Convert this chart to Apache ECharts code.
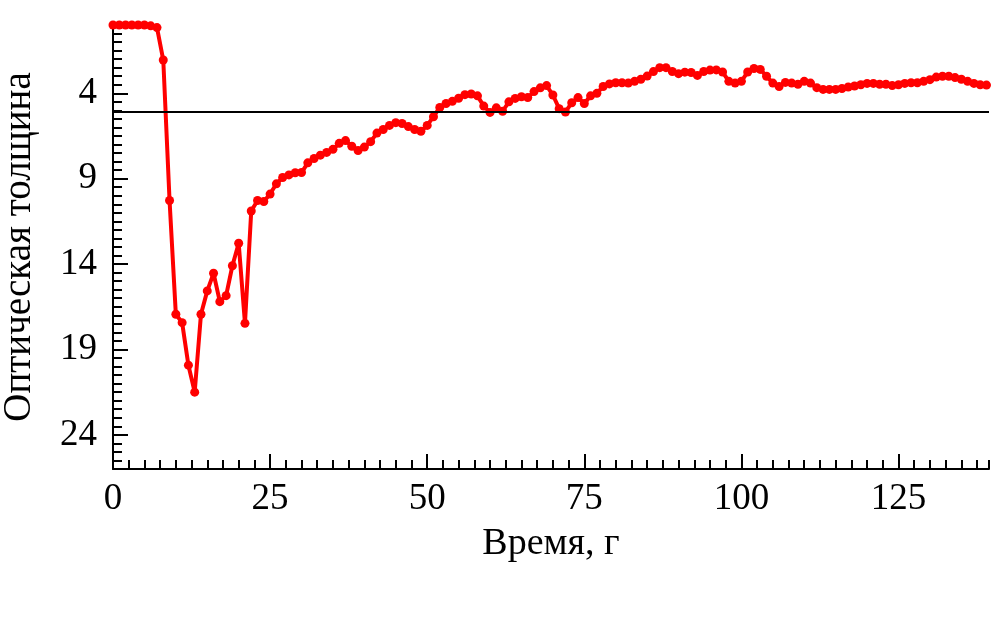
<!DOCTYPE html>
<html>
<head>
<meta charset="utf-8">
<script src="https://cdn.jsdelivr.net/npm/echarts@6/dist/echarts.min.js"></script>
<style>
html,body{margin:0;padding:0;background:#fff;}
#chart{width:1004px;height:626px;}
</style>
</head>
<body>
<div id="chart"></div>
<script>
// Time (years) and optical thickness values
const times = [];
for (let i = 0; i < 140; i++) times.push(i);
const thickness = [
  0, 0, 0, 0, 0, 0, 0.05, 0.15, 2.05, 10.28,
  16.94, 17.43, 19.92, 21.5, 16.94, 15.57, 14.54, 16.2, 15.85, 14.1,
  12.78, 17.47, 10.89, 10.28, 10.34, 9.9, 9.3, 8.93, 8.78, 8.65,
  8.64, 8.07, 7.82, 7.62, 7.46, 7.28, 6.93, 6.77, 7.1, 7.35,
  7.15, 6.83, 6.33, 6.12, 5.88, 5.72, 5.77, 5.95, 6.12, 6.22,
  5.88, 5.37, 4.83, 4.6, 4.47, 4.29, 4.08, 4.04, 4.15, 4.75,
  5.12, 4.85, 5.05, 4.5, 4.3, 4.2, 4.25, 3.9, 3.68, 3.55,
  4.1, 4.9, 5.1, 4.55, 4.25, 4.6, 4.15, 4.0, 3.6, 3.45,
  3.38, 3.38, 3.4, 3.3, 3.18, 2.99, 2.73, 2.5, 2.5, 2.72,
  2.85, 2.76, 2.78, 2.95, 2.72, 2.64, 2.63, 2.75, 3.3, 3.4,
  3.3, 2.75, 2.55, 2.6, 3.0, 3.4, 3.6, 3.36, 3.4, 3.47,
  3.3, 3.4, 3.67, 3.77, 3.77, 3.77, 3.72, 3.63, 3.57, 3.5,
  3.42, 3.42, 3.47, 3.47, 3.55, 3.5, 3.42, 3.38, 3.38, 3.3,
  3.2, 3.05, 3.0, 3.0, 3.08, 3.18, 3.3, 3.42, 3.5, 3.52
];
const xTickLabels = [0, 25, 50, 75, 100, 125];
const yTickLabels = [4, 9, 14, 19, 24];
const referenceLevel = [5.1];

const FONT = 'Liberation Serif';
const data = times.map((t, i) => [t, thickness[i]]);

const chart = echarts.init(document.getElementById('chart'), null, {renderer: 'canvas'});
chart.setOption({
  animation: false,
  backgroundColor: '#ffffff',
  grid: {left: 113, right: 15, top: 25, bottom: 157, containLabel: false, outerBoundsMode: 'none'},
  xAxis: [
    {
      type: 'value', position: 'bottom', min: 0, max: 139.4, interval: 2.5,
      axisLine: {show: true, onZero: false, lineStyle: {color: '#000', width: 2}},
      axisTick: {show: true, inside: true, length: 9, lineStyle: {color: '#000', width: 2}},
      axisLabel: {show: false},
      splitLine: {show: false}
    },
    {
      type: 'value', position: 'bottom', min: 0, max: 139.4,
      name: 'Время, г', nameLocation: 'middle', nameGap: 56,
      nameTextStyle: {fontFamily: FONT, fontSize: 38, color: '#000'},
      axisLine: {show: false, onZero: false},
      axisTick: {show: true, inside: true, length: 15, customValues: xTickLabels, lineStyle: {color: '#000', width: 2}},
      axisLabel: {show: true, customValues: xTickLabels, margin: 12, fontFamily: FONT, fontSize: 37, color: '#000'},
      splitLine: {show: false}
    }
  ],
  yAxis: [
    {
      type: 'value', position: 'left', inverse: true, min: 0, max: 26, interval: 0.5,
      axisLine: {show: true, onZero: false, lineStyle: {color: '#000', width: 2}},
      axisTick: {show: true, inside: true, length: 9, lineStyle: {color: '#000', width: 2}},
      axisLabel: {show: false},
      splitLine: {show: false}
    },
    {
      type: 'value', position: 'left', inverse: true, min: 0, max: 26,
      name: 'Оптическая толщина', nameLocation: 'middle', nameGap: 74, nameRotate: 90,
      nameTextStyle: {fontFamily: FONT, fontSize: 39, color: '#000'},
      axisLine: {show: false, onZero: false},
      axisTick: {show: true, inside: true, length: 15, customValues: yTickLabels, lineStyle: {color: '#000', width: 2}},
      axisLabel: {show: true, customValues: yTickLabels, margin: 16, fontFamily: FONT, fontSize: 37, color: '#000'},
      splitLine: {show: false}
    }
  ],
  series: [
    {
      type: 'line', xAxisIndex: 0, yAxisIndex: 0, data: data,
      symbol: 'circle', symbolSize: 9, showSymbol: true,
      itemStyle: {color: '#ff0000'},
      lineStyle: {color: '#ff0000', width: 4},
      markLine: {
        silent: true, symbol: ['none', 'none'],
        label: {show: false},
        lineStyle: {color: '#000', width: 2, type: 'solid'},
        data: referenceLevel.map(v => ({yAxis: v}))
      },
      z: 3
    }
  ]
});
</script>
</body>
</html>
